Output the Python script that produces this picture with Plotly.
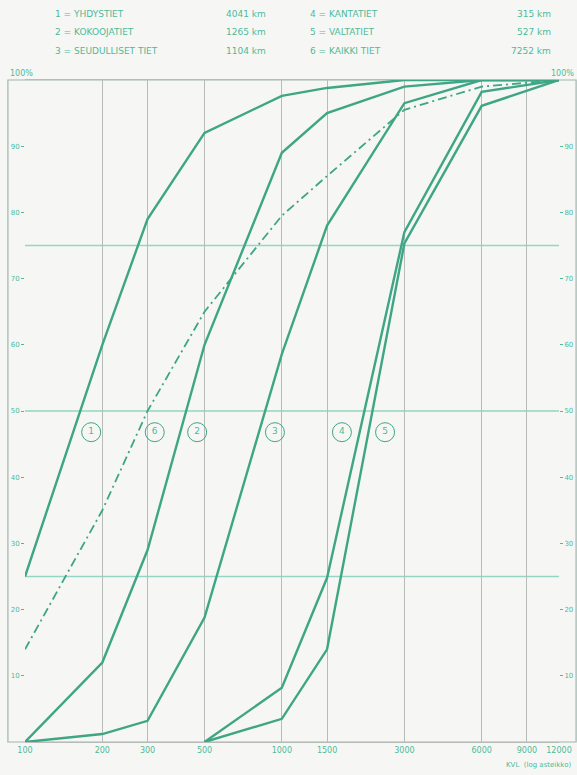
import math
import plotly.graph_objects as go

# KVL values (log axis) and cumulative share of road length (%)
x_tieluokka_1 = [100, 200, 300, 500, 1000, 1500, 3000, 12000]
y_tieluokka_1 = [25, 60, 79, 92, 97.6, 98.8, 100, 100]

x_tieluokka_2 = [100, 200, 300, 500, 1000, 1500, 3000, 6000, 12000]
y_tieluokka_2 = [0, 12, 29, 60, 89, 95, 99, 100, 100]

x_tieluokka_3 = [100, 200, 300, 500, 1000, 1500, 3000, 6000, 12000]
y_tieluokka_3 = [0, 1.2, 3.2, 18.8, 58.6, 78, 96.5, 100, 100]

x_tieluokka_4 = [500, 1000, 1500, 3000, 6000, 12000]
y_tieluokka_4 = [0, 8.2, 24.8, 77, 98.2, 100]

x_tieluokka_5 = [500, 1000, 1500, 3000, 6000, 12000]
y_tieluokka_5 = [0, 3.5, 14, 75.3, 96.1, 100]

x_kaikki = [100, 200, 300, 500, 1000, 1500, 3000, 6000, 12000]
y_kaikki = [14, 35, 50, 65, 79.5, 85.5, 95.5, 99, 100]

label_x = [181, 320, 468, 940, 1714, 2523]
label_y = [46.8, 46.8, 46.8, 46.8, 46.8, 46.8]
label_text = ['1', '6', '2', '3', '4', '5']

x_ticks = [100, 200, 300, 500, 1000, 1500, 3000, 6000, 9000, 12000]
y_ticks = [10, 20, 30, 40, 50, 60, 70, 80, 90]
y_grid = [25, 50, 75]

legend_left = ['1 = YHDYSTIET', '2 = KOKOOJATIET', '3 = SEUDULLISET TIET']
legend_left_km = ['4041 km', '1265 km', '1104 km']
legend_right = ['4 = KANTATIET', '5 = VALTATIET', '6 = KAIKKI TIET']
legend_right_km = ['315 km', '527 km', '7252 km']

LINE = '#3ea585'
TEXT = '#4fb99a'
GRIDV = '#b7bcb8'
GRIDH = '#92d6c3'
FONT = 'DejaVu Sans'

fig = go.Figure()

for xs, ys in [(x_tieluokka_1, y_tieluokka_1), (x_tieluokka_2, y_tieluokka_2),
               (x_tieluokka_3, y_tieluokka_3), (x_tieluokka_4, y_tieluokka_4),
               (x_tieluokka_5, y_tieluokka_5)]:
    fig.add_trace(go.Scatter(x=xs, y=ys, mode='lines',
                             line=dict(color=LINE, width=2.4), showlegend=False))

fig.add_trace(go.Scatter(x=x_kaikki, y=y_kaikki, mode='lines',
                         line=dict(color=LINE, width=1.8, dash='9px,4px,2px,4px'),
                         showlegend=False))

fig.add_trace(go.Scatter(
    x=label_x, y=label_y, mode='markers+text', text=label_text,
    textposition='middle center',
    textfont=dict(family=FONT, size=9, color=TEXT),
    marker=dict(symbol='circle-open', size=19, color=LINE, line=dict(width=1)),
    showlegend=False))

# invisible trace so the right-hand axis is drawn
fig.add_trace(go.Scatter(x=[x_ticks[0]], y=[y_ticks[0]], yaxis='y2',
                         mode='markers', marker=dict(opacity=0), showlegend=False,
                         hoverinfo='skip'))

for g in y_grid:
    fig.add_shape(type='line', xref='paper', yref='y', x0=0, x1=1, y0=g, y1=g,
                  line=dict(color=GRIDH, width=1.3), layer='below')

# outer frame
fig.add_shape(type='rect', xref='paper', yref='paper', x0=-0.032, x1=1.032,
              y0=0, y1=1, line=dict(color='#9fb5ae', width=1.2), layer='below')

ann = []
rows_y = [1.0997, 1.0725, 1.0438]
for i in range(3):
    ann.append(dict(x=0.052, y=rows_y[i], text=legend_left[i], xanchor='left'))
    ann.append(dict(x=0.455, y=rows_y[i], text=legend_left_km[i], xanchor='right'))
    ann.append(dict(x=0.530, y=rows_y[i], text=legend_right[i], xanchor='left'))
    ann.append(dict(x=0.989, y=rows_y[i], text=legend_right_km[i], xanchor='right'))
for a in ann:
    a.update(xref='paper', yref='paper', yanchor='middle', showarrow=False,
             font=dict(family=FONT, size=9, color=TEXT))
ann.append(dict(x=-0.032, y=1.0, xref='paper', yref='paper', text='100%',
                xanchor='left', yanchor='bottom', showarrow=False,
                font=dict(family=FONT, size=8, color=TEXT)))
ann.append(dict(x=1.032, y=1.0, xref='paper', yref='paper', text='100%',
                xanchor='right', yanchor='bottom', showarrow=False,
                font=dict(family=FONT, size=8, color=TEXT)))
ann.append(dict(x=1.027, y=-0.026, xref='paper', yref='paper',
                text='KVL  (log asteikko)', xanchor='right', yanchor='top',
                showarrow=False, font=dict(family=FONT, size=7, color=TEXT)))

fig.update_layout(
    width=577, height=775,
    margin=dict(l=25, r=18, t=80, b=33, autoexpand=False),
    paper_bgcolor='#f6f7f4', plot_bgcolor='#f6f7f4',
    annotations=ann,
    xaxis=dict(type='log', range=[math.log10(x_ticks[0]), math.log10(x_ticks[-1])],
               tickvals=x_ticks, ticktext=[str(v) for v in x_ticks],
               showgrid=True, gridcolor=GRIDV, gridwidth=1, zeroline=False,
               showline=True, linecolor=GRIDV, mirror=True, ticks='',
               automargin=False,
               tickfont=dict(family=FONT, size=8, color=TEXT)),
    yaxis=dict(range=[0, 100], tickvals=y_ticks, showgrid=False, zeroline=False,
               ticks='outside', ticklen=3, tickcolor=TEXT, automargin=False,
               tickfont=dict(family=FONT, size=7, color=TEXT)),
    yaxis2=dict(range=[0, 100], tickvals=y_ticks, overlaying='y', side='right',
                showgrid=False, zeroline=False, ticks='outside', ticklen=3,
                tickcolor=TEXT, automargin=False,
                tickfont=dict(family=FONT, size=7, color=TEXT)),
)

fig.write_html("out.html", config={'displayModeBar': False},
               post_script="document.body.style.margin='0';")
